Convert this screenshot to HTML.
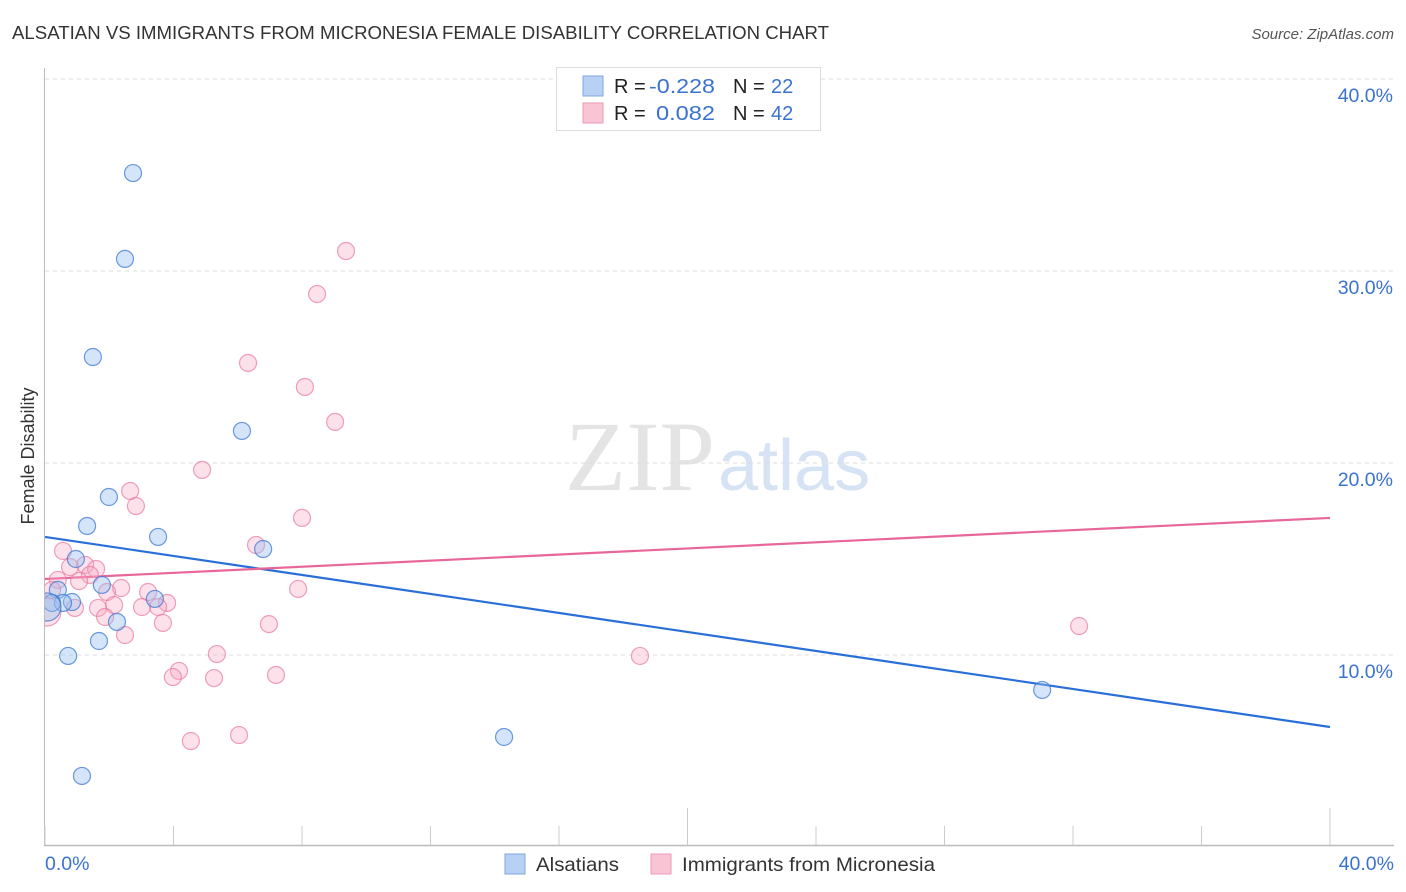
<!DOCTYPE html>
<html><head><meta charset="utf-8"><style>
body{margin:0;background:#fff;font-family:"Liberation Sans",sans-serif}
#wrap{position:relative;width:1406px;height:892px;overflow:hidden}
</style></head><body>
<div id="wrap">
<svg id="svg" width="1406" height="892">
<defs><clipPath id="pc"><rect x="45" y="60" width="1360" height="786"/></clipPath></defs>
<text x="12" y="39" font-size="18.5" fill="#333" textLength="817" lengthAdjust="spacingAndGlyphs">ALSATIAN VS IMMIGRANTS FROM MICRONESIA FEMALE DISABILITY CORRELATION CHART</text>
<text x="1394" y="39" font-size="15" fill="#555" font-style="italic" text-anchor="end">Source: ZipAtlas.com</text>
<text x="34" y="456" font-size="18" fill="#333" transform="rotate(-90 34 456)" text-anchor="middle">Female Disability</text>
<text x="715" y="490" font-size="100" fill="#e4e4e4" text-anchor="end" font-family="Liberation Serif,serif">ZIP</text>
<text x="718" y="490" font-size="72" fill="#d6e3f5">atlas</text>
<g id="grid"></g><g id="axes"></g><g id="lines"></g><g id="dots" clip-path="url(#pc)"></g>
<g>
<rect x="556.5" y="67.5" width="264" height="63" fill="#fff" stroke="#ddd"/>
<rect x="583" y="76" width="20" height="20" fill="#b7d1f5" stroke="#7fa7e0"/>
<rect x="583" y="103" width="20" height="20" fill="#f9c5d5" stroke="#eb9ab3"/>
<text x="614" y="93" font-size="20" fill="#222">R =</text><text x="649" y="93" font-size="20" fill="#3a72d0" textLength="66" lengthAdjust="spacingAndGlyphs">-0.228</text>
<text x="733" y="93" font-size="20" fill="#222">N =</text><text x="771" y="93" font-size="20" fill="#3a72d0">22</text>
<text x="614" y="120" font-size="20" fill="#222">R =</text><text x="656" y="120" font-size="20" fill="#3a72d0" textLength="59" lengthAdjust="spacingAndGlyphs">0.082</text>
<text x="733" y="120" font-size="20" fill="#222">N =</text><text x="771" y="120" font-size="20" fill="#3a72d0">42</text>
</g>
<g>
<rect x="505" y="854" width="20" height="20" fill="#b7d1f5" stroke="#7fa7e0"/>
<text x="536" y="871" font-size="19.5" fill="#333" textLength="83" lengthAdjust="spacingAndGlyphs">Alsatians</text>
<rect x="651" y="854" width="20" height="20" fill="#f9c5d5" stroke="#eb9ab3"/>
<text x="682" y="871" font-size="19.5" fill="#333" textLength="253" lengthAdjust="spacingAndGlyphs">Immigrants from Micronesia</text>
</g>
</svg>
</div>
<script>
const yTicks=[10,20,30,40];
const yTickLabels=["10.0%","20.0%","30.0%","40.0%"];
const xTickLabels=["0.0%","40.0%"];
const blueX=[2.74,2.49,1.49,6.13,1.99,1.31,3.52,6.79,0.96,1.77,3.42,0.40,0.84,0.56,0.22,0.06,2.24,1.68,0.72,1.15,14.29,31.04];
const blueY=[35.10,30.63,25.52,21.67,18.23,16.72,16.15,15.52,15.0,13.65,12.92,13.39,12.76,12.71,12.71,12.5,11.72,10.73,9.95,3.70,5.73,8.18];
const pinkX=[4.89,2.65,2.83,8.0,0.56,6.57,0.78,1.25,1.59,1.40,0.40,1.06,2.37,1.93,3.21,7.88,3.80,3.52,3.02,2.15,1.65,0.93,1.87,3.67,2.49,6.97,5.35,4.17,3.98,5.26,7.19,4.54,6.04,9.37,8.47,6.32,8.09,9.03,18.52,32.19,0.22,0.06];
const pinkY=[19.64,18.54,17.76,17.14,15.42,15.73,14.58,14.69,14.48,14.17,13.91,13.85,13.49,13.28,13.28,13.44,12.71,12.5,12.5,12.6,12.45,12.45,11.98,11.67,11.04,11.61,10.05,9.17,8.85,8.80,8.96,5.52,5.83,31.04,28.80,25.21,23.96,22.14,9.95,11.51,13.39,12.24];
const blueTrend=[16.15,6.25];
const pinkTrend=[13.96,17.14];
const NS="http://www.w3.org/2000/svg";
const sx=v=>45+v*1285/40, sy=v=>847-v*19.2;
function mk(t,a,p){const e=document.createElementNS(NS,t);for(const k in a)e.setAttribute(k,a[k]);p.appendChild(e);return e;}
const grid=document.getElementById('grid'),axes=document.getElementById('axes'),lines=document.getElementById('lines'),dots=document.getElementById('dots');
yTicks.forEach((t,i)=>{
 const l=mk('line',{x1:45,x2:1394,y1:sy(t),y2:sy(t),stroke:'#ddd','stroke-dasharray':'4,4'},grid);
 
 
 const tx=mk('text',{x:1393,y:sy(t)+23,'font-size':19.5,fill:'#3a72d0','text-anchor':'end'},axes);
 tx.textContent=yTickLabels[i];
 
 
});
mk('line',{x1:44.5,x2:44.5,y1:68,y2:846,stroke:'#bbb'},axes);
mk('line',{x1:44,x2:1394,y1:845.5,y2:845.5,stroke:'#bbb','stroke-width':1.5},axes);
for(let i=0;i<=10;i++){const v=i*4;const tall=(i==5||i==10);
 mk('line',{x1:sx(v),x2:sx(v),y1:tall?808:826,y2:845,stroke:'#ccc'},axes);}
[[0,'start',45],[40,'end',1394]].forEach((a,i)=>{
 const tx=mk('text',{x:a[2],y:870,'font-size':19.5,fill:'#3a72d0','text-anchor':a[1]},axes);
 tx.textContent=xTickLabels[i];
 
 
});
function trend(tr,c,name){const l=mk('line',{x1:sx(0),y1:sy(tr[0]),x2:sx(40),y2:sy(tr[1]),stroke:c,'stroke-width':2.2},lines);
 
 }
trend(blueTrend,'#2a6fd8','trend-alsatians');
trend(pinkTrend,'#e8679a','trend-micronesia');
function pts(X,Y,fill,stroke,name,big){X.forEach((x,i)=>{
 const r=(i===big)?14:8.5;
 const c=mk('circle',{cx:sx(x),cy:sy(Y[i]),r:r,fill:fill,stroke:stroke,'stroke-width':1.2},dots);
 
 
});}
pts(pinkX,pinkY,'rgba(246,170,195,0.35)','rgba(232,120,160,0.7)','point-micronesia',41);
pts(blueX,blueY,'rgba(150,190,240,0.4)','rgba(60,120,210,0.75)','point-alsatians',15);
</script>
</body></html>
